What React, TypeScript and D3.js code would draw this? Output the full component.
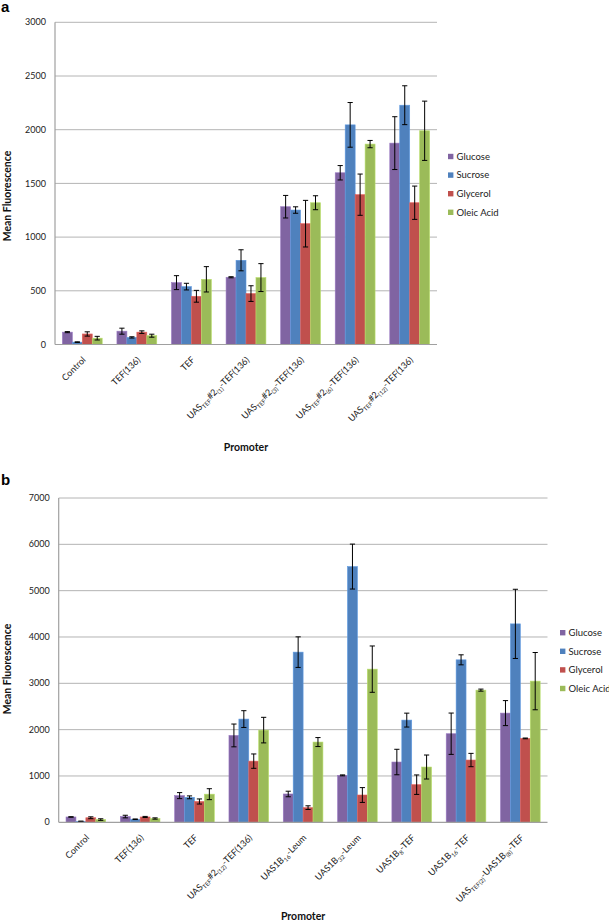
import React from "react";
import * as d3 from "d3";

// ---------- Data ----------
const seriesNames = ["Glucose", "Sucrose", "Glycerol", "Oleic Acid"];
const seriesColors = ["#8064A2", "#4F81BD", "#C0504D", "#9BBB59"];

// Panel a
const labelsA = [
  "Control",
  "TEF(136)",
  "TEF",
  "UAS_{TEF}#2_{(1)}-TEF(136)",
  "UAS_{TEF}#2_{(3)}-TEF(136)",
  "UAS_{TEF}#2_{(6)}-TEF(136)",
  "UAS_{TEF}#2_{(12)}-TEF(136)",
];
const glucoseA = [115, 124, 576, 626, 1283, 1599, 1875];
const glucoseErrA = [5, 28, 65, 5, 105, 67, 246];
const sucroseA = [22, 66, 539, 784, 1252, 2045, 2228];
const sucroseErrA = [3, 6, 31, 98, 30, 208, 181];
const glycerolA = [98, 115, 449, 474, 1125, 1395, 1320];
const glycerolErrA = [20, 12, 55, 73, 217, 192, 155];
const oleicA = [59, 82, 607, 623, 1320, 1866, 1990];
const oleicErrA = [17, 14, 118, 130, 65, 34, 276];
const ticksA = [0, 500, 1000, 1500, 2000, 2500, 3000];

// Panel b
const labelsB = [
  "Control",
  "TEF(136)",
  "TEF",
  "UAS_{TEF}#2_{(12)}-TEF(136)",
  "UAS1B_{16}-Leum",
  "UAS1B_{32}-Leum",
  "UAS1B_{8}-TEF",
  "UAS1B_{16}-TEF",
  "UAS_{TEF(2)}-UAS1B_{(8)}-TEF",
];
const glucoseB = [115, 124, 576, 1875, 611, 1013, 1301, 1912, 2357];
const glucoseErrB = [5, 28, 65, 246, 60, 10, 275, 446, 270];
const sucroseB = [22, 66, 539, 2228, 3673, 5520, 2206, 3507, 4283];
const sucroseErrB = [3, 6, 31, 181, 330, 485, 150, 108, 747];
const glycerolB = [98, 115, 449, 1320, 316, 589, 812, 1344, 1811];
const glycerolErrB = [20, 12, 55, 155, 40, 160, 210, 144, 8];
const oleicB = [59, 82, 607, 1990, 1732, 3306, 1193, 2853, 3047];
const oleicErrB = [17, 14, 118, 276, 97, 500, 259, 22, 618];
const ticksB = [0, 1000, 2000, 3000, 4000, 5000, 6000, 7000];

const FONT = "Lato, 'Open Sans', sans-serif";

function parseLabel(s: string) {
  const parts: { t: string; sub: boolean }[] = [];
  const re = /_\{([^}]*)\}/g;
  let last = 0;
  let m: RegExpExecArray | null;
  while ((m = re.exec(s))) {
    if (m.index > last) parts.push({ t: s.slice(last, m.index), sub: false });
    parts.push({ t: m[1], sub: true });
    last = m.index + m[0].length;
  }
  if (last < s.length) parts.push({ t: s.slice(last), sub: false });
  return parts;
}

type PanelProps = {
  letter: string;
  letterY: number;
  left: number;
  right: number;
  top: number;
  bottom: number;
  yMax: number;
  ticks: number[];
  labels: string[];
  values: number[][];
  errors: number[][];
  legendX: number;
  legendY: number;
  titleY: number;
  promoterY: number;
};

function Panel(p: PanelProps) {
  const y = d3.scaleLinear().domain([0, p.yMax]).range([p.bottom, p.top]);
  const x0 = d3
    .scaleBand<number>()
    .domain(d3.range(p.labels.length))
    .range([p.left, p.right])
    .paddingInner(0.27)
    .paddingOuter(0.135);
  const x1 = d3
    .scaleBand<number>()
    .domain(d3.range(seriesNames.length))
    .range([0, x0.bandwidth()])
    .padding(0);
  const capW = 2.6;
  return (
    <g>
      <text x={1} y={p.letterY} fontFamily="Arial, 'Liberation Sans', sans-serif" fontWeight="bold" fontSize={15}>
        {p.letter}
      </text>
      {/* gridlines */}
      {p.ticks.map((t) => (
        <g key={t}>
          {t > 0 && (
            <line x1={p.left} x2={p.right} y1={y(t)} y2={y(t)} stroke="#b4b4b4" strokeWidth={1} />
          )}
          <text
            x={p.left - 9}
            y={y(t)}
            dy="0.35em"
            textAnchor="end"
            fontFamily={FONT}
            fontSize={9}
            fill="#222"
          >
            {t}
          </text>
        </g>
      ))}
      {/* bars */}
      {p.labels.map((_, gi) => (
        <g key={gi} transform={`translate(${x0(gi)},0)`}>
          {seriesNames.map((_, si) => {
            const v = p.values[si][gi];
            const e = p.errors[si][gi];
            const bx = x1(si)!;
            const bw = x1.bandwidth();
            const cx = bx + bw / 2;
            return (
              <g key={si}>
                <rect
                  x={bx}
                  y={y(v)}
                  width={bw}
                  height={y(0) - y(v)}
                  fill={seriesColors[si]}
                  stroke={d3.color(seriesColors[si])!.brighter(0.5).toString()}
                  strokeWidth={0.6}
                />
                <line x1={cx} x2={cx} y1={y(v + e)} y2={y(Math.max(0, v - e))} stroke="#000" strokeWidth={1} />
                <line x1={cx - capW} x2={cx + capW} y1={y(v + e)} y2={y(v + e)} stroke="#000" strokeWidth={1} />
                <line
                  x1={cx - capW}
                  x2={cx + capW}
                  y1={y(Math.max(0, v - e))}
                  y2={y(Math.max(0, v - e))}
                  stroke="#000"
                  strokeWidth={1}
                />
              </g>
            );
          })}
        </g>
      ))}
      {/* axes */}
      <line x1={p.left} x2={p.left} y1={p.top} y2={p.bottom} stroke="#a0a0a0" strokeWidth={1.2} />
      <line x1={p.left} x2={p.right} y1={p.bottom} y2={p.bottom} stroke="#a0a0a0" strokeWidth={1.2} />
      {/* x labels */}
      {p.labels.map((lab, gi) => {
        const cx = x0(gi)! + x0.bandwidth() / 2;
        const parts = parseLabel(lab);
        let prevSub = false;
        return (
          <text
            key={gi}
            transform={`translate(${cx + 4},${p.bottom + 16}) rotate(-45)`}
            textAnchor="end"
            fontFamily={FONT}
            fontSize={9}
            fill="#222"
          >
            {parts.map((pt, i) => {
              let dy = 0;
              if (pt.sub && !prevSub) dy = 2.2;
              if (!pt.sub && prevSub) dy = -2.2;
              prevSub = pt.sub;
              return (
                <tspan key={i} dy={dy} fontSize={pt.sub ? 6 : 9}>
                  {pt.t}
                </tspan>
              );
            })}
          </text>
        );
      })}
      {/* axis titles */}
      <text
        transform={`translate(11,${p.titleY}) rotate(-90)`}
        textAnchor="middle"
        fontFamily={FONT}
        fontWeight="bold"
        fontSize={10.5}
        fill="#111"
      >
        Mean Fluorescence
      </text>
      <text
        x={(p.left + p.right) / 2}
        y={p.promoterY}
        textAnchor="middle"
        fontFamily={FONT}
        fontWeight="bold"
        fontSize={10.5}
        fill="#111"
      >
        Promoter
      </text>
      {/* legend */}
      {seriesNames.map((n, si) => (
        <g key={n} transform={`translate(${p.legendX},${p.legendY + si * 18.6})`}>
          <rect x={0} y={-2.7} width={5.4} height={5.4} fill={seriesColors[si]} />
          <text x={8.5} y={0} dy="0.35em" fontFamily={FONT} fontSize={9.5} fill="#222">
            {n}
          </text>
        </g>
      ))}
    </g>
  );
}

export default function App() {
  return (
    <svg
      width={609}
      height={922}
      style={{ position: "absolute", left: 0, top: 0, background: "#fff" }}
    >
      <rect width={609} height={922} fill="#fff" />
      <Panel
        letter="a"
        letterY={12}
        left={55}
        right={437}
        top={22.3}
        bottom={344.5}
        yMax={3000}
        ticks={ticksA}
        labels={labelsA}
        values={[glucoseA, sucroseA, glycerolA, oleicA]}
        errors={[glucoseErrA, sucroseErrA, glycerolErrA, oleicErrA]}
        legendX={448}
        legendY={156.5}
        titleY={196}
        promoterY={451}
      />
      <Panel
        letter="b"
        letterY={485}
        left={58.7}
        right={547.5}
        top={498}
        bottom={822.3}
        yMax={7000}
        ticks={ticksB}
        labels={labelsB}
        values={[glucoseB, sucroseB, glycerolB, oleicB]}
        errors={[glucoseErrB, sucroseErrB, glycerolErrB, oleicErrB]}
        legendX={560}
        legendY={632.7}
        titleY={669}
        promoterY={920}
      />
    </svg>
  );
}
